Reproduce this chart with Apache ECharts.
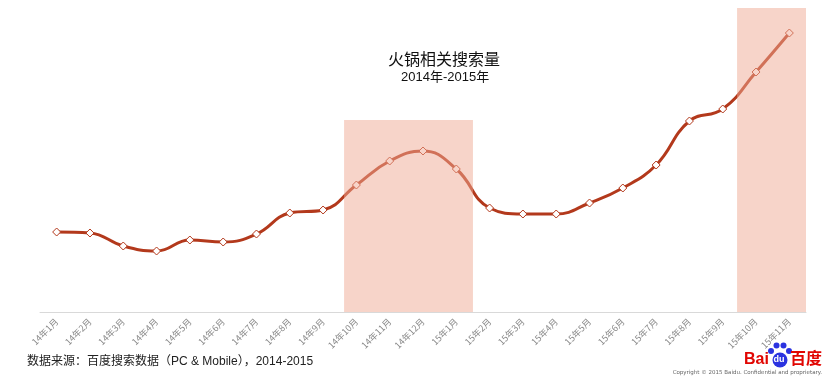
<!DOCTYPE html>
<html><head><meta charset="utf-8">
<script src="https://cdn.jsdelivr.net/npm/echarts@6/dist/echarts.min.js"></script>
<style>html,body{margin:0;padding:0;background:#fff}#c{width:828px;height:379px}</style>
</head><body><div id="c"></div>
<script>
const categories = ['14年1月','14年2月','14年3月','14年4月','14年5月','14年6月','14年7月','14年8月','14年9月','14年10月','14年11月','14年12月','15年1月','15年2月','15年3月','15年4月','15年5月','15年6月','15年7月','15年8月','15年9月','15年10月','15年11月'];
const searchVolume = [80, 79, 66, 61, 72, 70, 78, 99, 102, 127, 151, 161, 143, 104, 98, 98, 109, 124, 147, 191, 203, 240, 279];
const highlightSpans = [[9.13, 13.0, 192], [20.93, 23.0, 304]];
const titleText = '火锅相关搜索量';
const subtitleText = '2014年-2015年';
const sourceText = '数据来源：百度搜索数据（PC & Mobile），2014-2015';
const copyrightText = 'Copyright © 2015 Baidu. Confidential and proprietary.';

const chart = echarts.init(document.getElementById('c'), null, {renderer: 'canvas'});
const lineColor = '#b3391c';
const cjk = '"Noto Sans CJK SC", "Noto Sans", sans-serif';
const mixed = '"Liberation Sans", "Noto Sans CJK SC", sans-serif';
chart.setOption({
  animation: false,
  backgroundColor: '#fff',
  grid: {left: 40, right: 22, top: 0, bottom: 67, containLabel: false},
  xAxis: [{
    type: 'category', data: categories, boundaryGap: true,
    axisLine: {show: true, lineStyle: {color: '#d9d9d9', width: 1}},
    axisTick: {show: false},
    axisLabel: {interval: 0, rotate: 45, color: '#8a8a8a', fontSize: 9, margin: 8, fontFamily: cjk}
  }, {
    type: 'value', min: 0, max: 23, show: false
  }],
  yAxis: {type: 'value', min: 0, max: 312, show: false},
  series: [{
    type: 'line', data: searchVolume, smooth: 0.45, z: 3,
    lineStyle: {color: lineColor, width: 3},
    symbol: 'diamond', symbolSize: 8, showAllSymbol: true,
    itemStyle: {color: '#fff', borderColor: lineColor, borderWidth: 1}
  }, {
    type: 'line', xAxisIndex: 1, data: [], z: 10,
    markArea: {
      silent: true, z: 10,
      itemStyle: {color: 'rgba(240,170,148,0.5)'},
      data: highlightSpans.map(s => [{xAxis: s[0], yAxis: 0}, {xAxis: s[1], yAxis: s[2]}])
    }
  }],
  graphic: [
    {type: 'text', left: 388, top: 51, style: {text: titleText, font: '16px ' + cjk, fill: '#111'}},
    {type: 'text', left: 401, top: 71, style: {text: subtitleText, font: '13px ' + mixed, fill: '#111'}},
    {type: 'text', left: 27, top: 356, style: {text: sourceText, font: '12px ' + mixed, fill: '#222'}},
    {type: 'text', right: 6, top: 370, style: {text: copyrightText, font: '5.5px "DejaVu Sans", sans-serif', fill: '#666'}},
    {type: 'text', left: 744, top: 352, style: {text: 'Bai', font: 'bold 16px "Liberation Sans", Arial, sans-serif', fill: '#e10602'}},
    {type: 'circle', shape: {cx: 780, cy: 360, r: 7.5}, style: {fill: '#2b33e0'}},
    {type: 'circle', shape: {cx: 771, cy: 351, r: 3}, style: {fill: '#2b33e0'}},
    {type: 'circle', shape: {cx: 776.5, cy: 345.5, r: 3}, style: {fill: '#2b33e0'}},
    {type: 'circle', shape: {cx: 783.5, cy: 345.5, r: 3}, style: {fill: '#2b33e0'}},
    {type: 'circle', shape: {cx: 789, cy: 351, r: 3}, style: {fill: '#2b33e0'}},
    {type: 'text', left: 773.5, top: 355, style: {text: 'du', font: 'bold 9px "Liberation Sans", sans-serif', fill: '#fff'}},
    {type: 'text', left: 790, top: 350, style: {text: '百度', font: 'bold 16px ' + cjk, fill: '#e10602'}}
  ]
});
</script></body></html>
